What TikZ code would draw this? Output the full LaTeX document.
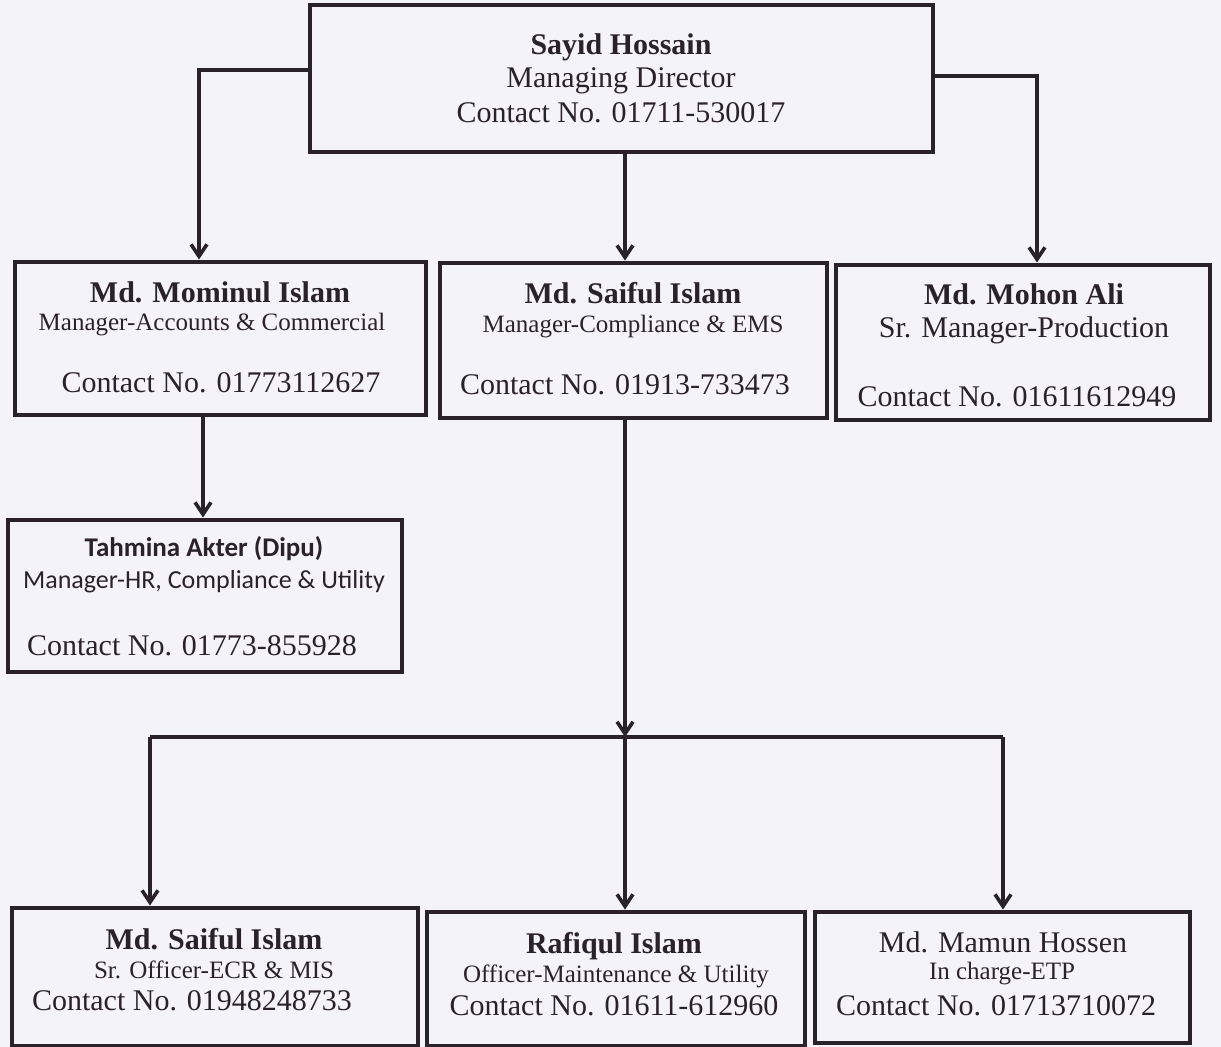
\documentclass[tikz,border=0pt]{standalone}
\usepackage{fontspec}
\setmainfont{Liberation Serif}
\newfontfamily\calibri{Carlito}
\usetikzlibrary{arrows.meta,fit}
\definecolor{ink}{RGB}{42,34,42}
\definecolor{paper}{RGB}{244,243,249}
\tikzset{
  boxnode/.style={draw=ink, line width=2.4pt, fill=paper, inner sep=0pt},
  nametext/.style={anchor=base, text=ink, font=\fontsize{15}{17}\selectfont\bfseries},
  roletext/.style={anchor=base, text=ink, font=\fontsize{12.5}{14}\selectfont},
  bigrole/.style={anchor=base, text=ink, font=\fontsize{15}{17}\selectfont},
  phonetext/.style={anchor=base, text=ink, font=\fontsize{15}{17}\selectfont},
  link/.style={draw=ink, line width=1.8pt},
  linkarrow/.style={link, -{Straight Barb[length=6pt,width=8pt,line width=1.8pt]}}
}
\begin{document}
\begin{tikzpicture}[x=0.5pt,y=-0.5pt]
\fill[paper] (0,0) rectangle (1221,1047);
\useasboundingbox (0,0) rectangle (1221,1047);
% boxes
\node[boxnode, fit={(310,5) (933,152)}] (top) {};
\node[boxnode, fit={(15,262) (426,415)}] (mominul) {};
\node[boxnode, fit={(440,263) (827,418)}] (saiful) {};
\node[boxnode, fit={(836,265) (1210,420)}] (mohon) {};
\node[boxnode, fit={(8,520) (402,672)}] (tahmina) {};
\node[boxnode, fit={(12,908) (418,1046)}] (ecr) {};
\node[boxnode, fit={(427,912) (805,1046)}] (rafiqul) {};
\node[boxnode, fit={(815,912) (1190,1043)}] (mamun) {};
%
\node[nametext] (topname) at (621,55) {Sayid Hossain};
\node[bigrole] (toprole) at (621,88) {Managing Director};
\node[phonetext] (topphone) at (621,123) {Contact No. 01711-530017};
%
\node[nametext] (mominulname) at (220,303) {Md. Mominul Islam};
\node[roletext] (mominulrole) at (212,331) {Manager-Accounts \& Commercial};
\node[phonetext] (mominulphone) at (221,393) {Contact No. 01773112627};
%
\node[nametext] (saifulname) at (633,304) {Md. Saiful Islam};
\node[roletext] (saifulrole) at (633,333) {Manager-Compliance \& EMS};
\node[phonetext] (saifulphone) at (625,395) {Contact No. 01913-733473};
%
\node[nametext] (mohonname) at (1024,305) {Md. Mohon Ali};
\node[bigrole] (mohonrole) at (1024,338) {Sr. Manager-Production};
\node[phonetext] (mohonphone) at (1017,407) {Contact No. 01611612949};
%
\node[nametext, font=\calibri\fontsize{13.5}{16}\selectfont\bfseries] (tahminaname) at (204,557) {Tahmina Akter (Dipu)};
\node[roletext, font=\calibri\fontsize{13}{15}\selectfont] (tahminarole) at (204,589) {Manager-HR, Compliance \& Utility};
\node[phonetext] (tahminaphone) at (192,655) {Contact No. 01773-855928};
%
\node[nametext] (ecrname) at (214,949) {Md. Saiful Islam};
\node[roletext] (ecrrole) at (214,978) {Sr. Officer-ECR \& MIS};
\node[phonetext] (ecrphone) at (192,1010) {Contact No. 01948248733};
%
\node[nametext] (rafiqulname) at (614,953) {Rafiqul Islam};
\node[roletext] (rafiqulrole) at (616,982) {Officer-Maintenance \& Utility};
\node[phonetext] (rafiqulphone) at (614,1015) {Contact No. 01611-612960};
%
\node[bigrole] (mamunname) at (1003,952) {Md. Mamun Hossen};
\node[roletext] (mamunrole) at (1002,979) {In charge-ETP};
\node[phonetext] (mamunphone) at (996,1015) {Contact No. 01713710072};
% connectors
\coordinate (leftbend) at (199,70);
\coordinate (rightbend) at (1037,76);
\coordinate (midtop) at (625,152);
\coordinate (hrdrop) at (203,415);
\coordinate (bartop) at (625,418);
\coordinate (barmid) at (625,737);
\coordinate (barleft) at (150,737);
\coordinate (barright) at (1003,737);
\draw[linkarrow] (top.west |- leftbend) -- (leftbend) -- (leftbend |- mominul.north);
\draw[linkarrow] (top.east |- rightbend) -- (rightbend) -- (rightbend |- mohon.north);
\draw[linkarrow] (midtop) -- (midtop |- saiful.north);
\draw[linkarrow] (hrdrop) -- (hrdrop |- tahmina.north);
\draw[linkarrow] (bartop) -- (barmid);
\draw[link] (barleft) -- (barright);
\draw[linkarrow] (barleft) -- (barleft |- ecr.north);
\draw[linkarrow] (barmid) -- (barmid |- rafiqul.north);
\draw[linkarrow] (barright) -- (barright |- mamun.north);
\end{tikzpicture}
\end{document}
